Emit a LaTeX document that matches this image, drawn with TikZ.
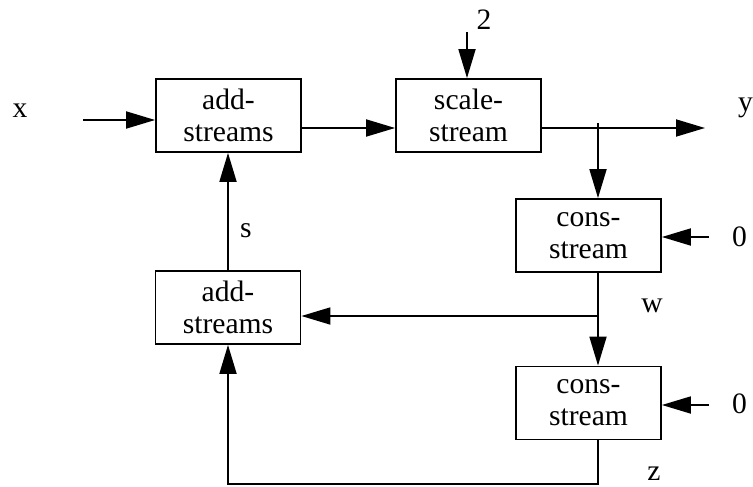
\documentclass[tikz,border=0pt]{standalone}
\usepackage{fontspec}
\setmainfont{Liberation Serif}
\usetikzlibrary{arrows.meta}
\begin{document}
\begin{tikzpicture}[x=1pt,y=-1pt,
  every node/.style={font=\fontsize{29.6}{32}\selectfont},
  blk/.style={draw,line width=1.8pt,minimum width=145pt,minimum height=73pt,inner sep=0pt,align=center},
  lbl/.style={inner sep=0pt},
  arr/.style={line width=1.8pt,-{Triangle[length=29pt,width=17pt]}}]
\useasboundingbox (0,0) rectangle (753,487);
\node[blk] (A1) at (228.5,115.5) {add-\\streams};
\node[blk] (S) at (468.5,115.5) {scale-\\stream};
\node[blk] (C1) at (588.5,235.5) {cons-\\stream};
\node[blk] (A2) at (228,307.5) {add-\\streams};
\node[blk] (C2) at (588.5,403) {cons-\\stream};
\node[lbl] (lx) at (20,111) {x};
\node[lbl,anchor=base east] (ly) at (753,112) {y};
\node[lbl] (l2) at (484,20) {2};
\node[lbl] (ls) at (246,231) {s};
\node[lbl] (l0a) at (739.5,237) {0};
\node[lbl] (l0b) at (739.5,404) {0};
\node[lbl] (lw) at (652,306) {w};
\node[lbl] (lz) at (654,474) {z};
\coordinate (xin) at (83,120);
\coordinate (m1) at (0,128);
\coordinate (yout) at (705,128);
\coordinate (br) at (598,123);
\coordinate (two) at (467,32);
\coordinate (z0a) at (709,237);
\coordinate (z0b) at (709,405);
\coordinate (wj) at (598,316);
\coordinate (lp) at (228,484);
\draw[arr] (xin) -- (xin -| A1.west);
\draw[arr] (A1.east |- m1) -- (S.west |- m1);
\draw[arr] (S.east |- yout) -- (yout);
\draw[arr] (br) -- (br |- C1.north);
\draw[arr] (two) -- (two |- S.north);
\draw[arr] (z0a) -- (z0a -| C1.east);
\draw[arr] (z0b) -- (z0b -| C2.east);
\draw[arr] (br |- C1.south) -- (br |- C2.north);
\draw[arr] (wj) -- (wj -| A2.east);
\draw[arr] (A2.north) -- (A2.north |- A1.south);
\draw[arr] (br |- C2.south) -- (br |- lp) -- (lp) -- (lp |- A2.south);
\end{tikzpicture}
\end{document}
